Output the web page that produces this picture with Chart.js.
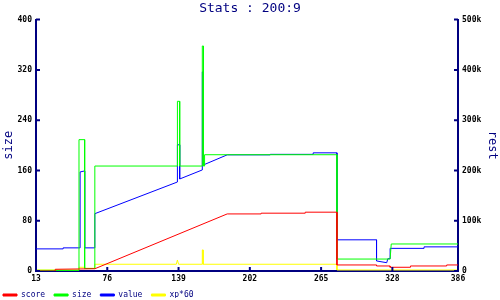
<!DOCTYPE html>
<html>
<head>
<meta charset="utf-8">
<script src="https://cdn.jsdelivr.net/npm/chart.js@4.4.1/dist/chart.umd.min.js"></script>
<style>
  html, body { margin: 0; padding: 0; background: #fff; }
</style>
</head>
<body>
<canvas id="myChart" width="500" height="300"></canvas>
<script>
const chartTitle = 'Stats : 200:9';
const xTicks = [13, 76, 139, 202, 265, 328, 386];

// score, value and xp*60 go on the right ("rest") axis, size on the left one
const scoreX = [13, 30, 30, 65, 182, 212, 212, 251, 251, 279, 279, 314, 314, 326, 326, 344, 344, 376, 376, 386];
const scoreY = [0, 0, 3400, 4500, 113500, 113500, 115000, 115000, 117000, 117000, 12000, 12000, 10000, 10000, 7400, 7400, 10000, 10000, 12000, 12000];

const sizeX = [13, 51, 51, 56, 56, 65, 65, 138, 138, 140, 140, 160, 160, 161, 161, 162, 162, 279, 279, 326, 327, 386];
const sizeY = [1, 1, 209, 209, 4, 4, 167, 167, 270, 270, 167, 167, 358, 358, 167, 167, 185, 185, 19, 19, 43, 43];

const valueX = [13, 37, 37, 52, 52, 56, 56, 65, 65, 138, 138, 140, 140, 160, 160, 161, 161, 182, 220, 220, 258, 258, 279, 279, 314, 314, 323, 324, 326, 326, 356, 356, 386];
const valueY = [44000, 44000, 46000, 46000, 197000, 199000, 46000, 46000, 114000, 177000, 251000, 251000, 183000, 201000, 396000, 396000, 211000, 231000, 231000, 232000, 232000, 235000, 235000, 62000, 62000, 20000, 16500, 24500, 24500, 45000, 45000, 48000, 48000];

const xpX = [13, 51, 51, 56, 56, 65, 65, 137, 138, 139, 160, 160, 160.7, 160.7, 279, 279, 386];
const xpY = [2000, 2000, 7400, 7400, 5400, 5400, 13400, 13400, 21900, 13400, 13400, 41900, 41900, 13400, 13400, 2000, 2000];

const NAVY = '#000080';
const MONO = '"DejaVu Sans Mono", monospace';
const PLOT_BOTTOM = 271;

var ctx = document.getElementById('myChart');

function toPoints(xs, ys){
  return xs.map((x, i) => ({x: x, y: ys[i]}));
}

function makeSet(label, xs, ys, color, axis){
  return {
    label: label,
    data: toPoints(xs, ys),
    yAxisID: axis,
    borderColor: color,
    backgroundColor: color,
    borderWidth: 1,
    pointRadius: 0,
    tension: 0
  };
}

// tick marks point into the plot, not out of it
const insideTicks = {
  id: 'insideTicks',
  afterDraw(chart){
    const c = chart.ctx;
    const a = chart.chartArea;
    const s = chart.scales;
    c.save();
    c.strokeStyle = NAVY;
    c.lineWidth = 2;
    c.beginPath();
    s.x.ticks.forEach(t => {
      const px = s.x.getPixelForValue(t.value);
      c.moveTo(px, a.bottom); c.lineTo(px, a.bottom - 4);
    });
    s.y.ticks.forEach(t => {
      const py = s.y.getPixelForValue(t.value);
      c.moveTo(a.left, py); c.lineTo(a.left + 4, py);
    });
    s.y2.ticks.forEach(t => {
      const py = s.y2.getPixelForValue(t.value);
      c.moveTo(a.right, py); c.lineTo(a.right - 4, py);
    });
    c.stroke();
    c.restore();
  }
};

// legend sits a bit further left and up than chart.js puts it
const shiftLegend = {
  id: 'shiftLegend',
  afterLayout(chart){
    const lg = chart.legend;
    lg.left -= 6; lg.right -= 6;
    lg.top -= 2; lg.bottom -= 2;
  }
};

const tickFont = { family: MONO, size: 8, weight: 'bold' };

new Chart(ctx, {
  type: 'line',
  data: {
    datasets: [
      makeSet('score', scoreX, scoreY, '#ff0000', 'y2'),
      makeSet('size', sizeX, sizeY, '#00ff00', 'y'),
      makeSet('value', valueX, valueY, '#0000ff', 'y2'),
      makeSet('xp*60', xpX, xpY, '#ffff00', 'y2')
    ]
  },
  options: {
    responsive: false,
    animation: false,
    layout: { padding: 0 },
    plugins: {
      title: {
        display: true,
        text: chartTitle,
        color: NAVY,
        font: { family: MONO, size: 13, weight: 'normal' },
        padding: { top: 1, bottom: 3 }
      },
      legend: {
        position: 'bottom',
        align: 'start',
        maxHeight: 16,
        labels: {
          boxWidth: 14,
          boxHeight: 2,
          padding: 9,
          color: NAVY,
          font: { family: MONO, size: 8 }
        }
      },
      tooltip: { enabled: false }
    },
    scales: {
      x: {
        type: 'linear',
        min: 13,
        max: 386,
        afterBuildTicks: s => { s.ticks = xTicks.map(v => ({value: v})); },
        afterFit: s => { s.height = s.chart.height - s.chart.legend.height - PLOT_BOTTOM; },
        ticks: { color: '#000', font: tickFont, padding: 3, autoSkip: false, maxRotation: 0 },
        grid: { drawOnChartArea: false, drawTicks: false },
        border: { color: NAVY, width: 2 }
      },
      y: {
        position: 'left',
        min: 0,
        max: 400,
        afterFit: s => { s.width = 36; },
        ticks: { stepSize: 80, color: '#000', font: tickFont, padding: 4 },
        grid: { drawOnChartArea: false, drawTicks: false },
        border: { color: NAVY, width: 2 },
        title: { display: true, text: 'size', color: NAVY, font: { family: MONO, size: 12 }, padding: { top: 2, bottom: 0 } }
      },
      y2: {
        position: 'right',
        min: 0,
        max: 500000,
        afterFit: s => { s.width = 42; },
        ticks: {
          stepSize: 100000,
          color: '#000',
          font: tickFont,
          padding: 4,
          callback: v => v === 0 ? '0' : (v / 1000) + 'k'
        },
        grid: { drawOnChartArea: false, drawTicks: false },
        border: { color: NAVY, width: 2 },
        title: { display: true, text: 'rest', color: NAVY, font: { family: MONO, size: 12 }, padding: { top: 1, bottom: 0 } }
      }
    }
  },
  plugins: [insideTicks, shiftLegend]
});
</script>
</body>
</html>
